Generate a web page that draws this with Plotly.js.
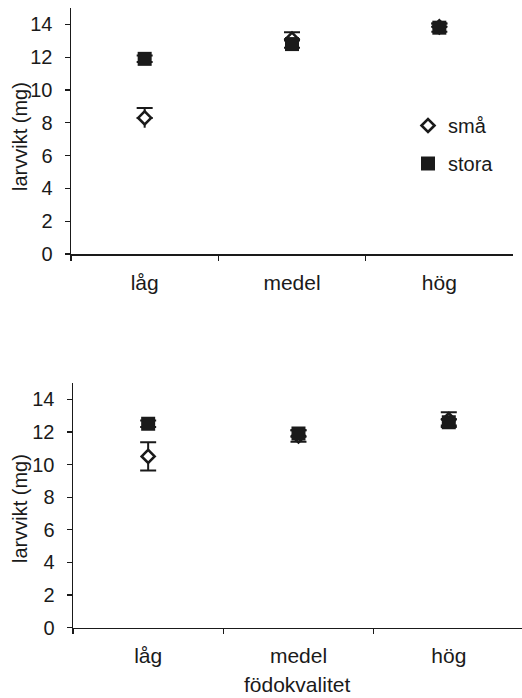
<!DOCTYPE html>
<html>
<head>
<meta charset="utf-8">
<script src="https://cdn.plot.ly/plotly-3.0.1.min.js"></script>
<style>html,body{margin:0;padding:0;background:#fff;}#chart{width:522px;height:698px;}</style>
</head>
<body>
<div id="chart"></div>
<script>
const categories = ['låg', 'medel', 'hög'];
const seriesNames = ['små', 'stora'];
const yTickVals = [0, 2, 4, 6, 8, 10, 12, 14];
const yTitle = 'larvvikt (mg)';
const xTitle = 'födokvalitet';

// top panel
const smaTop = [8.3, 13.1, 13.85];
const smaTopErr = [0.6, 0.42, 0.2];
const storaTop = [11.9, 12.8, 13.8];
const storaTopErr = [0.2, 0.22, 0.25];

// bottom panel
const smaBot = [10.5, 11.75, 12.75];
const smaBotErr = [0.87, 0.35, 0.45];
const storaBot = [12.5, 11.9, 12.6];
const storaBotErr = [0.2, 0.2, 0.2];

const FONT = 'Liberation Sans, Arial, sans-serif';
const INK = '#1a1a1a';
const W = 522, H = 698;

const smaMarker = {symbol: 'diamond', size: 10, color: '#ffffff', line: {color: INK, width: 2.6}};
const storaMarker = {symbol: 'square', size: 14, color: INK, line: {color: INK, width: 0}};

const traces = [
  // top: små lower whisker (no cap)
  {x: categories, y: smaTop, xaxis: 'x', yaxis: 'y', type: 'scatter', mode: 'markers',
   marker: {size: 0, opacity: 0}, showlegend: false, hoverinfo: 'skip',
   error_y: {type: 'data', symmetric: false, array: smaTop.map(() => 0), arrayminus: smaTopErr, color: INK, thickness: 2, width: 0}},
  {x: categories, y: smaTop, xaxis: 'x', yaxis: 'y', type: 'scatter', mode: 'markers', name: seriesNames[0],
   marker: smaMarker, legendgroup: 'a',
   error_y: {type: 'data', symmetric: false, array: smaTopErr, arrayminus: smaTop.map(() => 0), color: INK, thickness: 2, width: 8}},
  {x: categories, y: storaTop, xaxis: 'x', yaxis: 'y', type: 'scatter', mode: 'markers', name: seriesNames[1],
   marker: storaMarker, legendgroup: 'b',
   error_y: {type: 'data', array: storaTopErr, color: INK, thickness: 2, width: 8}},
  // bottom
  {x: categories, y: smaBot, xaxis: 'x2', yaxis: 'y2', type: 'scatter', mode: 'markers', name: seriesNames[0],
   marker: smaMarker, showlegend: false,
   error_y: {type: 'data', array: smaBotErr, color: INK, thickness: 2, width: 8}},
  {x: categories, y: storaBot, xaxis: 'x2', yaxis: 'y2', type: 'scatter', mode: 'markers', name: seriesNames[1],
   marker: storaMarker, showlegend: false,
   error_y: {type: 'data', array: storaBotErr, color: INK, thickness: 2, width: 8}}
];

function xAxis(domain, range, anchor) {
  return {
    domain: domain, range: range, anchor: anchor, type: 'category',
    showline: true, linecolor: INK, linewidth: 1.5, showgrid: false, zeroline: false,
    ticks: 'outside', tickson: 'boundaries', ticklen: 5, tickwidth: 1.2, tickcolor: INK,
    tickfont: {family: FONT, size: 21, color: INK}, ticklabelstandoff: 9,
    fixedrange: true
  };
}
function yAxis(domain, anchor) {
  return {
    domain: domain, range: [0, 15], anchor: anchor,
    tickvals: yTickVals, showline: true, linecolor: INK, linewidth: 1.5,
    showgrid: false, zeroline: false,
    ticks: 'outside', ticklen: 5, tickwidth: 1.2, tickcolor: INK,
    tickfont: {family: FONT, size: 20, color: INK}, ticklabelstandoff: 8,
    fixedrange: true
  };
}

const titleFont = {family: FONT, size: 20, color: INK};

const layout = {
  width: W, height: H,
  margin: {l: 0, r: 0, t: 0, b: 0},
  paper_bgcolor: '#ffffff', plot_bgcolor: '#ffffff',
  font: {family: FONT, color: INK},
  xaxis: xAxis([71 / W, 513 / W], [-0.5, 2.5], 'y'),
  yaxis: yAxis([(H - 254) / H, (H - 8) / H], 'x'),
  xaxis2: xAxis([73 / W, 1], [-0.5, 2.487], 'y2'),
  yaxis2: yAxis([(H - 627.7) / H, (H - 383) / H], 'x2'),
  annotations: [
    {text: yTitle, xref: 'paper', yref: 'paper', x: 20 / W, y: (H - 137) / H,
     xanchor: 'center', yanchor: 'middle', textangle: -90, showarrow: false, font: titleFont},
    {text: yTitle, xref: 'paper', yref: 'paper', x: 20 / W, y: (H - 509) / H,
     xanchor: 'center', yanchor: 'middle', textangle: -90, showarrow: false, font: titleFont},
    {text: xTitle, xref: 'paper', yref: 'paper', x: 297 / W, y: 0,
     xanchor: 'center', yanchor: 'bottom', showarrow: false, font: {family: FONT, size: 21, color: INK}}
  ],
  showlegend: true,
  legend: {
    x: 408 / W, y: (H - 106) / H, xanchor: 'left', yanchor: 'top',
    bgcolor: 'rgba(0,0,0,0)', borderwidth: 0,
    font: {family: FONT, size: 20, color: INK},
    traceorder: 'grouped', tracegroupgap: 9, itemwidth: 30
  }
};

Plotly.newPlot('chart', traces, layout, {displayModeBar: false, staticPlot: true});
</script>
</body>
</html>
